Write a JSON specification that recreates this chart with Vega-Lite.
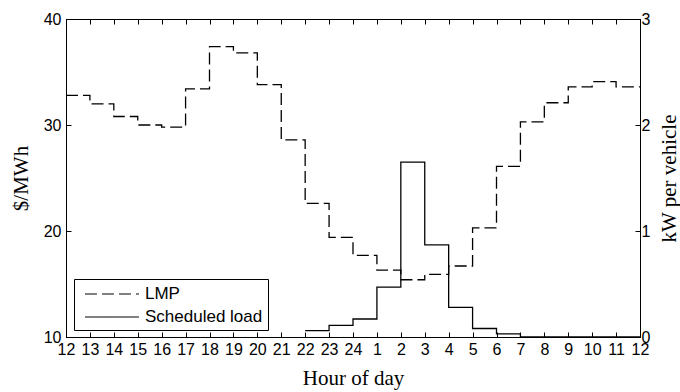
{
  "$schema": "https://vega.github.io/schema/vega-lite/v6.json",
  "autosize": {"type": "none"},
  "padding": {"left": 66, "top": 19, "right": 40, "bottom": 55},
  "width": 574,
  "height": 318,
  "background": "white",
  "config": {
    "view": {"stroke": "black", "strokeWidth": 1},
    "axis": {
      "labelFont": "Liberation Sans",
      "labelFontSize": 16,
      "labelColor": "black",
      "titleFont": "Liberation Serif",
      "titleFontSize": 21,
      "titleFontWeight": "normal",
      "titleColor": "black",
      "domainColor": "black",
      "tickColor": "black",
      "grid": false
    }
  },
  "datasets": {
    "lmp": [
      {"hour": 0, "value": 32.8, "series": "LMP"},
      {"hour": 1, "value": 32.0, "series": "LMP"},
      {"hour": 2, "value": 30.8, "series": "LMP"},
      {"hour": 3, "value": 30.0, "series": "LMP"},
      {"hour": 4, "value": 29.8, "series": "LMP"},
      {"hour": 5, "value": 33.4, "series": "LMP"},
      {"hour": 6, "value": 37.4, "series": "LMP"},
      {"hour": 7, "value": 36.8, "series": "LMP"},
      {"hour": 8, "value": 33.8, "series": "LMP"},
      {"hour": 9, "value": 28.6, "series": "LMP"},
      {"hour": 10, "value": 22.6, "series": "LMP"},
      {"hour": 11, "value": 19.4, "series": "LMP"},
      {"hour": 12, "value": 17.7, "series": "LMP"},
      {"hour": 13, "value": 16.3, "series": "LMP"},
      {"hour": 14, "value": 15.4, "series": "LMP"},
      {"hour": 15, "value": 15.9, "series": "LMP"},
      {"hour": 16, "value": 16.7, "series": "LMP"},
      {"hour": 17, "value": 20.3, "series": "LMP"},
      {"hour": 18, "value": 26.1, "series": "LMP"},
      {"hour": 19, "value": 30.3, "series": "LMP"},
      {"hour": 20, "value": 32.1, "series": "LMP"},
      {"hour": 21, "value": 33.6, "series": "LMP"},
      {"hour": 22, "value": 34.1, "series": "LMP"},
      {"hour": 23, "value": 33.6, "series": "LMP"},
      {"hour": 24, "value": 33.6, "series": "LMP"}
    ],
    "load": [
      {"hour": 10, "value": 0.06, "series": "Scheduled load"},
      {"hour": 11, "value": 0.11, "series": "Scheduled load"},
      {"hour": 12, "value": 0.17, "series": "Scheduled load"},
      {"hour": 13, "value": 0.47, "series": "Scheduled load"},
      {"hour": 14, "value": 1.65, "series": "Scheduled load"},
      {"hour": 15, "value": 0.87, "series": "Scheduled load"},
      {"hour": 16, "value": 0.28, "series": "Scheduled load"},
      {"hour": 17, "value": 0.08, "series": "Scheduled load"},
      {"hour": 18, "value": 0.03, "series": "Scheduled load"},
      {"hour": 19, "value": 0.0, "series": "Scheduled load"},
      {"hour": 24, "value": 0.0, "series": "Scheduled load"}
    ]
  },
  "layer": [
    {
      "data": {"name": "lmp"},
      "mark": {"type": "line", "interpolate": "step-after", "color": "black", "strokeWidth": 1.3, "clip": true},
      "encoding": {
        "x": {
          "field": "hour", "type": "quantitative",
          "scale": {"domain": [0, 24], "nice": false, "zero": false},
          "axis": {
            "orient": "bottom", "title": "Hour of day",
            "values": [0,1,2,3,4,5,6,7,8,9,10,11,12,13,14,15,16,17,18,19,20,21,22,23,24],
            "labelExpr": "datum.value <= 12 ? datum.value + 12 : datum.value - 12",
            "tickSize": -5, "labelPadding": 9, "titlePadding": 10, "labelFlush": false, "labelOverlap": false
          }
        },
        "y": {
          "field": "value", "type": "quantitative",
          "scale": {"domain": [10, 40], "nice": false, "zero": false},
          "axis": {
            "orient": "left", "title": "$/MWh", "values": [10, 20, 30, 40],
            "tickSize": -5, "labelPadding": 10, "titlePadding": 12, "labelFlush": false
          }
        },
        "strokeDash": {
          "field": "series", "type": "nominal",
          "scale": {"domain": ["LMP", "Scheduled load"], "range": [[12, 5], [1, 0]]},
          "legend": {
            "title": null, "orient": "none", "legendX": 8, "legendY": 260,
            "strokeColor": "black", "padding": 5, "fillColor": "white",
            "symbolType": "M-0.45,0H5.55", "symbolSize": 324, "symbolStrokeWidth": 1.2, "symbolStrokeColor": "black",
            "labelOffset": 46, "labelFont": "Liberation Sans", "labelFontSize": 17, "labelColor": "black", "rowPadding": 5
          }
        }
      }
    },
    {
      "data": {"name": "load"},
      "mark": {"type": "line", "interpolate": "step-after", "color": "black", "strokeWidth": 1.3},
      "encoding": {
        "x": {
          "field": "hour", "type": "quantitative",
          "scale": {"domain": [0, 24], "nice": false, "zero": false},
          "axis": {
            "orient": "top", "title": null, "labels": false, "domain": false,
            "values": [0,1,2,3,4,5,6,7,8,9,10,11,12,13,14,15,16,17,18,19,20,21,22,23,24],
            "tickSize": -5
          }
        },
        "y": {
          "field": "value", "type": "quantitative",
          "scale": {"domain": [0, 3], "nice": false, "zero": false},
          "axis": {
            "orient": "right", "title": "kW per vehicle", "values": [0, 1, 2, 3],
            "tickSize": -5, "labelPadding": 6, "titlePadding": 9, "titleAngle": 270, "titleBaseline": "top", "labelFlush": false
          }
        },
        "strokeDash": {"field": "series", "type": "nominal"}
      }
    }
  ],
  "resolve": {"scale": {"y": "independent"}, "axis": {"x": "independent", "y": "independent"}}
}
